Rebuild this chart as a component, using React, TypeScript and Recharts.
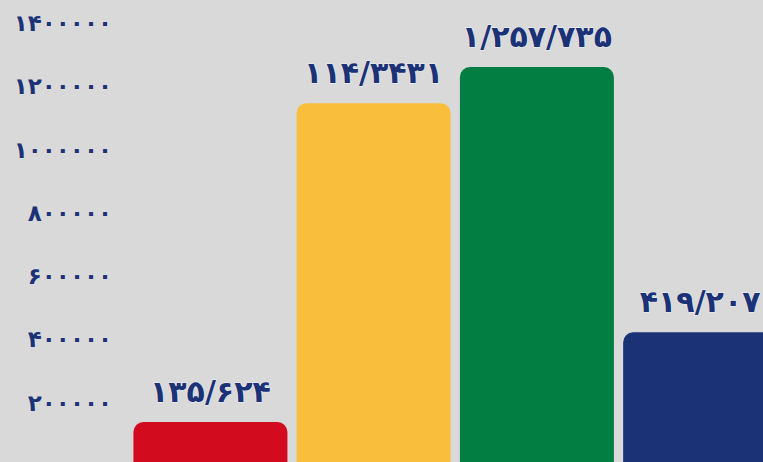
import { BarChart, Bar, XAxis, YAxis, Cell, LabelList } from 'recharts'

const categories = ['a', 'b', 'c', 'd']
const values = [135624, 1143431, 1257735, 419207]
const valueLabels = ['۱۳۵/۶۲۴', '۱۱۴/۳۴۳۱', '۱/۲۵۷/۷۳۵', '۴۱۹/۲۰۷']
const barColors = ['#d20c1e', '#f8be3c', '#027e43', '#1b3277']
const yTicks = [0, 200000, 400000, 600000, 800000, 1000000, 1200000, 1400000]

const toPersian = (n: number) => String(n).replace(/\d/g, (d) => '۰۱۲۳۴۵۶۷۸۹'[+d])

const navy = '#1b3277'
const font = '"DejaVu Sans", sans-serif'

const data = categories.map((name, i) => ({ name, value: values[i], label: valueLabels[i] }))

function YTick({ y, payload }: { y?: number; payload?: { value: number } }) {
  if (!payload || payload.value === 0) return null
  return (
    <text x={112} y={y} dy={9} textAnchor="end" fill={navy} fontFamily={font} fontWeight="bold" fontSize={23}>
      {toPersian(payload.value)}
    </text>
  )
}

function ValueLabel(props: any) {
  const { x, y, width, value } = props
  return (
    <text
      x={x + width / 2}
      y={y - 20}
      textAnchor="middle"
      fill={navy}
      stroke="#f2f2f2"
      strokeWidth={1}
      paintOrder="stroke"
      fontFamily={font}
      fontWeight="bold"
      fontSize={30}
    >
      {value}
    </text>
  )
}

export default function App() {
  return (
    <div style={{ position: 'absolute', left: 0, top: 0, width: 763, height: 462, overflow: 'hidden', background: '#d9d9d9' }}>
      <BarChart width={790} height={470} data={data} margin={{ top: 22, right: 8, bottom: 5, left: 0 }} barCategoryGap="2.7%">
        <XAxis dataKey="name" hide />
        <YAxis
          width={129}
          domain={[0, 1400000]}
          ticks={yTicks}
          axisLine={false}
          tickLine={false}
          tick={<YTick />}
          interval={0}
        />
        <Bar dataKey="value" radius={[10, 10, 0, 0]} isAnimationActive={false}>
          {data.map((_, i) => (
            <Cell key={i} fill={barColors[i]} />
          ))}
          <LabelList dataKey="label" content={<ValueLabel />} />
        </Bar>
      </BarChart>
    </div>
  )
}
